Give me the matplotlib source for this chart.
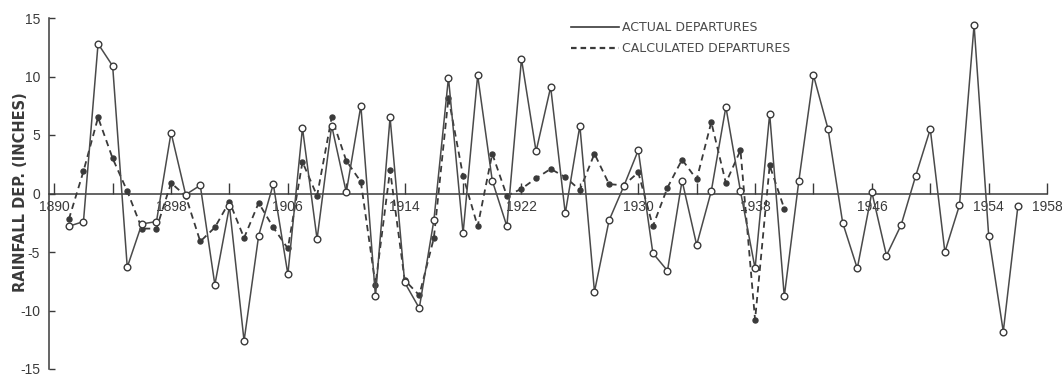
import matplotlib.pyplot as plt
from matplotlib.lines import Line2D

# actual rainfall departures (inches)
years_actual = list(range(1891, 1957))
actual = [
    -2.8, -2.4, 12.8, 10.9, -6.3, -2.6, -2.4, 5.2, -0.1, 0.7,
    -7.8, -1.1, -12.6, -3.6, 0.8, -6.9, 5.6, -3.9, 5.8, 0.1,
    7.5, -8.8, 6.5, -7.6, -9.8, -2.3, 9.9, -3.4, 10.1, 1.1,
    -2.8, 11.5, 3.6, 9.1, -1.7, 5.8, -8.4, -2.3, 0.6, 3.7,
    -5.1, -6.6, 1.1, -4.4, 0.2, 7.4, 0.2, -6.4, 6.8, -8.8,
    1.1, 10.1, 5.5, -2.5, -6.4, 0.1, -5.3, -2.7, 1.5, 5.5,
    -5.0, -1.0, 14.4, -3.6, -11.8, -1.1,
]

# calculated departures
years_calc = list(range(1891, 1941))
calculated = [
    -2.2, 1.9, 6.5, 3.0, 0.2, -3.0, -3.0, 0.9, -0.2, -4.1,
    -2.9, -0.7, -3.8, -0.8, -2.9, -4.7, 2.7, -0.2, 6.5, 2.8,
    1.0, -7.8, 2.0, -7.4, -8.7, -3.8, 8.2, 1.5, -2.8, 3.4,
    -0.2, 0.4, 1.3, 2.1, 1.4, 0.3, 3.4, 0.8, 0.7, 1.8,
    -2.8, 0.5, 2.9, 1.2, 6.1, 0.9, 3.7, -10.8, 2.4, -1.3,
]

tick_years = list(range(1890, 1959, 4))
label_years = [1890, 1898, 1906, 1914, 1922, 1930, 1938, 1946, 1954, 1958]
y_ticks = [-15, -10, -5, 0, 5, 10, 15]

ink = "#3a3a3a"
soft = "#4a4a4a"

fig = plt.figure(figsize=(10.62, 3.77), dpi=100)
ax = fig.add_axes([49 / 1062, 8 / 377, 1001 / 1062, 351 / 377])
ax.set_xlim(1889.64, 1958.2)
ax.set_ylim(-15, 15)

ax.plot(years_calc, calculated, ls=(0, (3.5, 2.5)), color=ink, lw=1.3,
        marker="o", ms=3.6, mfc=ink, mec=ink, zorder=3, clip_on=False)
ax.plot(years_actual, actual, ls="-", color=soft, lw=1.1,
        marker="o", ms=4.8, mfc="white", mec=ink, mew=1.0, zorder=4, clip_on=False)

for s in ["top", "right"]:
    ax.spines[s].set_visible(False)
ax.spines["bottom"].set_position(("data", 0))
ax.spines["bottom"].set_bounds(1889.64, 1958)
ax.spines["left"].set_bounds(-15, 15)
for s in ["bottom", "left"]:
    ax.spines[s].set_color(ink)
    ax.spines[s].set_linewidth(1.1)

ax.set_xticks(tick_years)
ax.set_xticklabels([str(y) if y in label_years else "" for y in tick_years])
ax.set_yticks(y_ticks)
ax.set_yticklabels([str(v) for v in y_ticks])
ax.tick_params(axis="x", direction="in", length=8, width=1, pad=4.5, colors=ink)
ax.tick_params(axis="y", direction="in", length=4, width=1, pad=6.5, colors=ink)
for lab in ax.get_xticklabels() + ax.get_yticklabels():
    lab.set_family("Liberation Sans")
    lab.set_fontsize(10)

ax.set_ylabel("RAINFALL DEP. (INCHES)", fontsize=10.5, fontweight="bold", color=ink)
ax.yaxis.set_label_coords(-0.021, 0.504)

handles = [
    Line2D([], [], color=ink, lw=1.2, ls="-"),
    Line2D([], [], color=ink, lw=1.6, ls=(0, (2.5, 1.8))),
]
ax.legend(handles, ["ACTUAL DEPARTURES", "CALCULATED DEPARTURES"],
          loc="upper left", bbox_to_anchor=(571 / 1062, 1 - 21 / 377),
          bbox_transform=fig.transFigure, frameon=False, fontsize=9,
          handlelength=3.8, handletextpad=0.3, labelspacing=0.65,
          borderpad=0, borderaxespad=0, labelcolor=soft)

fig.savefig("out.png", dpi=100)
